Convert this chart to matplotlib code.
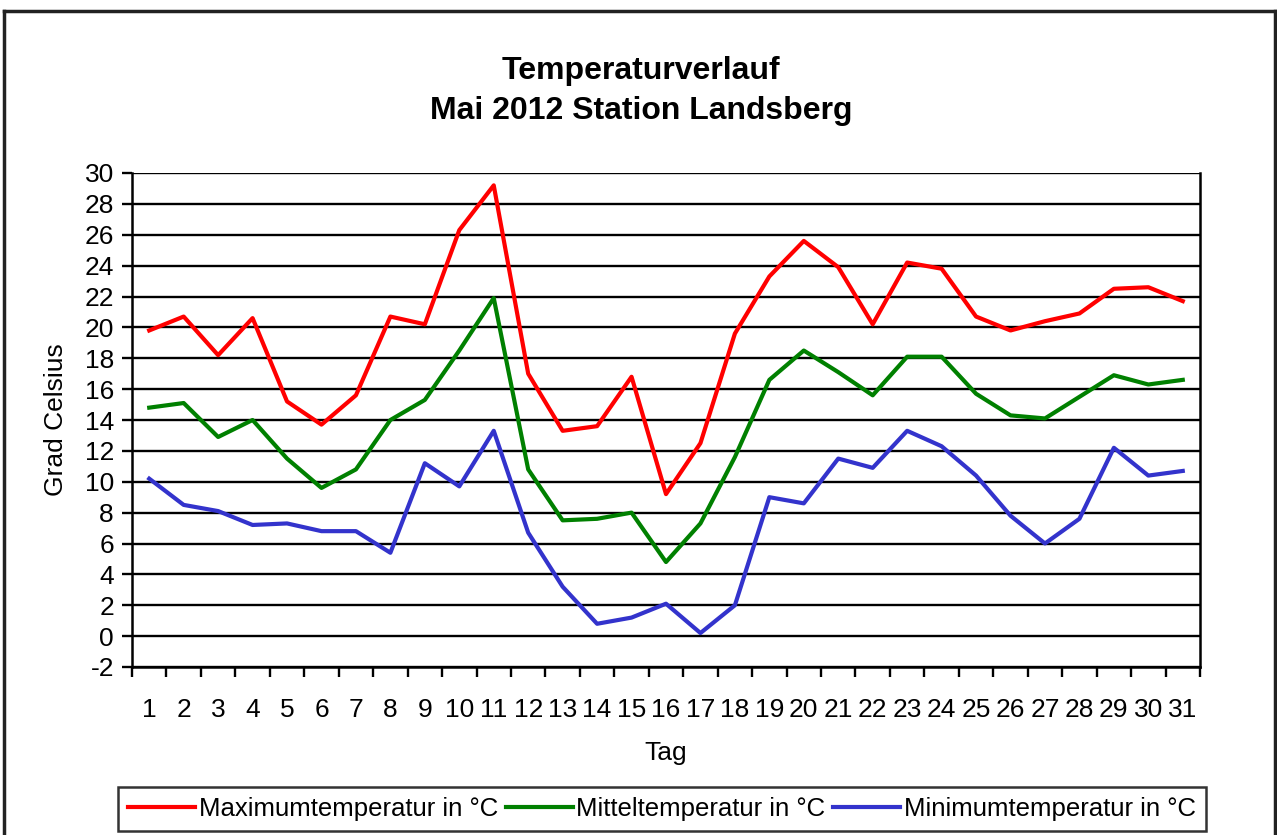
import numpy as np
import matplotlib
matplotlib.use("Agg")
from matplotlib import pyplot as plt
from matplotlib.lines import Line2D

# Data (Mai 2012, Station Landsberg)
days = list(range(1, 32))
t_max = [19.8, 20.7, 18.2, 20.6, 15.2, 13.7, 15.6, 20.7, 20.2, 26.3,
         29.2, 17.0, 13.3, 13.6, 16.8, 9.2, 12.5, 19.6, 23.3, 25.6,
         23.9, 20.2, 24.2, 23.8, 20.7, 19.8, 20.4, 20.9, 22.5, 22.6, 21.7]
t_mean = [14.8, 15.1, 12.9, 14.0, 11.5, 9.6, 10.8, 14.0, 15.3, 18.5,
          21.9, 10.8, 7.5, 7.6, 8.0, 4.8, 7.3, 11.6, 16.6, 18.5,
          17.1, 15.6, 18.1, 18.1, 15.7, 14.3, 14.1, 15.5, 16.9, 16.3, 16.6]
t_min = [10.2, 8.5, 8.1, 7.2, 7.3, 6.8, 6.8, 5.4, 11.2, 9.7,
         13.3, 6.7, 3.2, 0.8, 1.2, 2.1, 0.2, 2.0, 9.0, 8.6,
         11.5, 10.9, 13.3, 12.3, 10.4, 7.8, 6.0, 7.6, 12.2, 10.4, 10.7]
series_names = ["Maximumtemperatur in °C", "Mitteltemperatur in °C",
                "Minimumtemperatur in °C"]
y_ticks = list(range(-2, 31, 2))

plt.rcParams['font.family'] = ['Liberation Sans', 'DejaVu Sans']
plt.rcParams['axes.unicode_minus'] = False

fig = plt.figure(figsize=(12.77, 8.35), dpi=100)
ax = fig.add_axes([132/1277, 1 - 667/835, 1068/1277, 494/835])

# Horizontal grid lines, black like the original
for v in y_ticks:
    ax.axhline(v, color="black", lw=1.7, zorder=1)

ax.plot(days, t_max, color="#ff0000", lw=3, label=series_names[0], zorder=3)
ax.plot(days, t_mean, color="#008000", lw=3, label=series_names[1], zorder=3)
ax.plot(days, t_min, color="#3333cc", lw=3, label=series_names[2], zorder=3)

ax.set_xlim(0.5, 31.5)
ax.set_ylim(-2, 30)
ax.set_yticks(y_ticks)
ax.set_xticks(days)
ax.set_xticks(np.arange(0.5, 32, 1), minor=True)
ax.tick_params(axis="x", which="major", length=0, labelsize=19, pad=22)
ax.tick_params(axis="x", which="minor", length=7, width=1.7, direction="out")
ax.tick_params(axis="y", length=7, width=1.7, labelsize=19, pad=6)
for s in ["left", "right", "bottom"]:
    ax.spines[s].set_linewidth(1.8)
ax.spines["top"].set_visible(False)

ax.set_ylabel("Grad Celsius", fontsize=19, labelpad=12)
ax.set_xlabel("Tag", fontsize=19, labelpad=14)

# Title, two bold lines
fig.text(0.502, 1 - 71/835, "Temperaturverlauf", ha="center", va="center",
         fontsize=23, fontweight="bold")
fig.text(0.502, 1 - 111/835, "Mai 2012 Station Landsberg", ha="center",
         va="center", fontsize=23, fontweight="bold")

leg = ax.legend(loc="center", bbox_to_anchor=(662/1277, 1 - 809/835),
                bbox_transform=fig.transFigure, ncol=3, fontsize=18.5,
                frameon=True, fancybox=False, handlelength=2.6,
                handletextpad=0.15, columnspacing=0.3, borderpad=0.4,
                borderaxespad=0)
leg.get_frame().set_edgecolor("black")
leg.get_frame().set_linewidth(1.8)

# Outer chart border
for xs, ys in [([4/1277, 1275/1277], [1 - 11/835, 1 - 11/835]),
               ([4/1277, 4/1277], [0, 1 - 11/835]),
               ([1275/1277, 1275/1277], [0, 1 - 11/835])]:
    fig.add_artist(Line2D(xs, ys, color="#222222", lw=2.5,
                          transform=fig.transFigure))

fig.savefig("out.png", dpi=100)
